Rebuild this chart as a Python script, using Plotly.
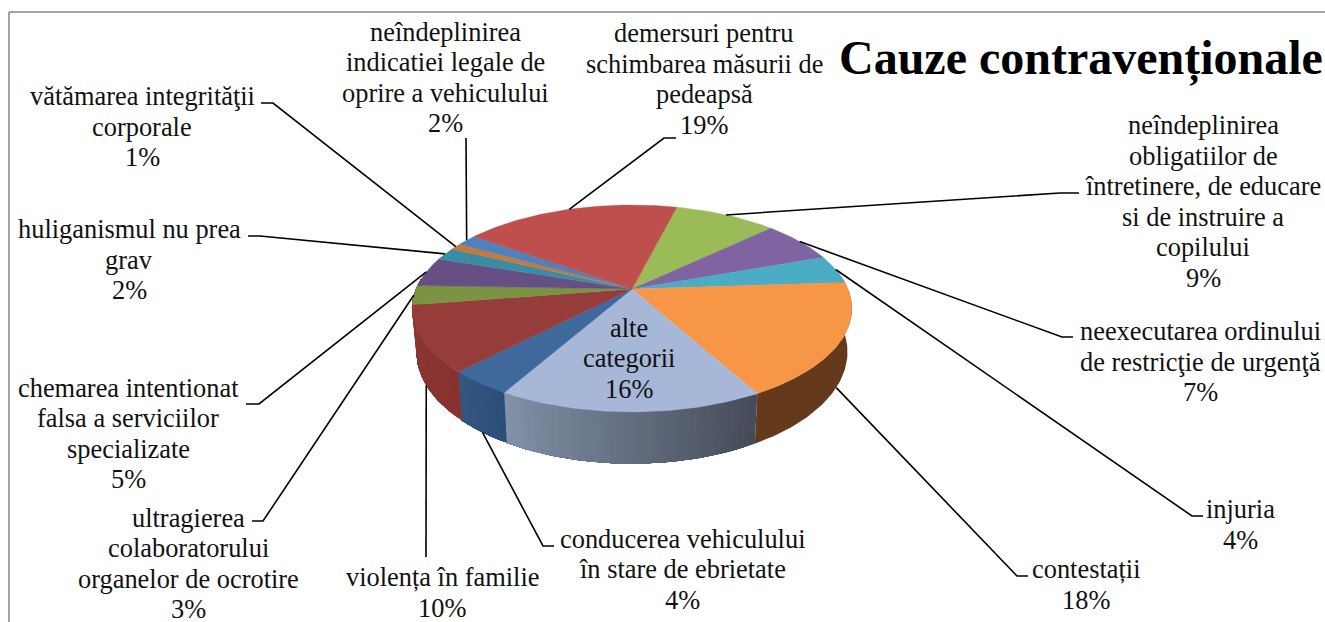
import numpy as np
import plotly.graph_objects as go

# ---- data ----
categories = [
    "neîndeplinirea<br>obligatiilor de<br>întretinere, de educare<br>si de instruire a<br>copilului",
    "neexecutarea ordinului<br>de restricţie de urgenţă",
    "injuria",
    "contestații",
    "alte<br>categorii",
    "conducerea vehiculului<br>în stare de ebrietate",
    "violența în familie",
    "ultragierea<br>colaboratorului<br>organelor de ocrotire",
    "chemarea intentionat<br>falsa a serviciilor<br>specializate",
    "huliganismul nu prea<br>grav",
    "vătămarea integrităţii<br>corporale",
    "neîndeplinirea<br>indicatiei legale de<br>oprire a vehiculului",
    "demersuri pentru<br>schimbarea măsurii de<br>pedeapsă",
]
percent = [9.0, 6.6, 4.4, 18.0, 16.3, 4.0, 10.3, 3.0, 4.6, 2.0, 1.0, 1.8, 19.0]

# ---- style ----
top_colors = ["#9BBB59", "#8064A2", "#4BACC6", "#F79646", "#A7B7D7", "#3F689B", "#963D3B",
              "#7B9342", "#664F82", "#3B8CA3", "#C8793A", "#4F81BD", "#BE4F4D"]
side_low = {2: "#653A1C", 3: "#653A1C", 4: "#444A56", 5: "#2B4E7B", 6: "#88322F"}
side_high = {2: "#653A1C", 3: "#653A1C", 4: "#8292A9", 5: "#36577F", 6: "#8C3A37"}

# ---- projection of the tilted disc onto the page ----
START_DEG, CX, CY, RX, RY, PERSP, DEPTH, LOWER = 14.2, 632, 289, 216, 99.8, 0.188, 42, 0.98
FONT = "Liberation Serif"
SIZE = 26.4
LINE_STEP = 30.5


def project(theta_deg, lower=False):
    t = np.radians(theta_deg)
    u, v = np.sin(t), np.cos(t)
    d = 1 + PERSP * v
    scale = LOWER if lower else 1
    return CX + scale * RX * u / d, CY - RY * v / d + (DEPTH / d if lower else 0)


def mix(c1, c2, f):
    a = [int(c1[i:i + 2], 16) for i in (1, 3, 5)]
    b = [int(c2[i:i + 2], 16) for i in (1, 3, 5)]
    return "rgb(%d,%d,%d)" % tuple(round(x + (y - x) * f) for x, y in zip(a, b))


edges = START_DEG + np.concatenate([[0], np.cumsum(percent)]) * 3.6
fig = go.Figure()

# side wall: shaded by overpainting from each step to the slice's end, so no seams appear
for i in side_low:
    lo, hi = max(edges[i], 80), (276 if i == 6 else edges[i + 1])
    if hi <= lo:
        continue
    steps = 40 if side_low[i] != side_high[i] else 1
    grid = np.linspace(lo, hi, steps + 1)
    for j in range(steps):
        th = np.linspace(grid[j], hi, max(3, int(hi - grid[j]) + 2))
        xt, yt = project(th)
        xb, yb = project(th[::-1], lower=True)
        col = mix(side_low[i], side_high[i], (j + 0.5) / steps)
        fig.add_trace(go.Scatter(x=np.r_[xt, xb, xt[0]], y=np.r_[yt, yb, yt[0]], mode="lines",
                                 fill="toself", fillcolor=col, line=dict(width=0),
                                 hoverinfo="skip", showlegend=False))

# top faces
for i in range(len(percent)):
    th = np.linspace(edges[i], edges[i + 1], max(3, int(percent[i] * 3.6) + 2))
    xs, ys = project(th)
    fig.add_trace(go.Scatter(x=np.r_[CX, xs, CX], y=np.r_[CY, ys, CY], mode="lines", fill="toself",
                             fillcolor=top_colors[i], line=dict(color=top_colors[i], width=0.4),
                             name=categories[i].replace("<br>", " "), hoverinfo="name", showlegend=False))

# leader lines: rim at the slice's middle angle -> elbow -> label
leaders = {0: [(1060, 193), (1079, 193)], 1: [(1062, 337), (1073, 337)], 2: [(1192, 516), (1203, 516)],
           3: [(1017, 576), (1028, 576)], 5: [(543, 546), (554, 546)], 6: [(426, 557)],
           7: [(263, 521), (252, 521)], 8: [(259, 404), (246, 404)], 9: [(260, 236), (248, 236)],
           10: [(273, 103), (261, 103)], 11: [(466, 138)], 12: [(664, 138), (676, 138)]}
on_lower_rim = {3, 5, 6}
mid = (edges[:-1] + edges[1:]) / 2
for i, pts in leaders.items():
    x0, y0 = project(mid[i], lower=i in on_lower_rim)
    fig.add_trace(go.Scatter(x=[x0] + [p[0] for p in pts], y=[y0] + [p[1] for p in pts], mode="lines",
                             line=dict(color="#000000", width=1.6), hoverinfo="skip", showlegend=False))

# labels: one annotation per line, because the reference's leading is tighter than Plotly's <br>
label_pos = [(1203, 201.5), (1200, 361.5), (1240, 524.5), (1086, 584.5), (629, 358), (682, 569), (442, 592.5),
             (188, 563.5), (128, 433.5), (129, 259.5), (142, 126.5), (445, 77.5), (704, 79)]
annotations = []
for txt, p, (x, y) in zip(categories, percent, label_pos):
    rows = txt.split("<br>") + [f"{round(p)}%"]
    for j, row in enumerate(rows):
        annotations.append(dict(x=x, y=y + (j - (len(rows) - 1) / 2) * LINE_STEP, xref="x", yref="y", text=row,
                                showarrow=False, xanchor="center", yanchor="middle",
                                font=dict(family=FONT, size=SIZE, color="#111111")))
annotations.append(dict(x=1081, y=58, xref="x", yref="y", text="<b>Cauze contravenționale</b>", showarrow=False,
                        xanchor="center", yanchor="middle", font=dict(family=FONT, size=48, color="#000000")))

frame = [dict(type="line", xref="x", yref="y", x0=9, y0=12, x1=1325, y1=12, line=dict(color="#868686", width=1.5)),
         dict(type="line", xref="x", yref="y", x0=9, y0=12, x1=9, y1=622, line=dict(color="#868686", width=1.5))]

fig.update_layout(width=1325, height=622, margin=dict(l=0, r=0, t=0, b=0), paper_bgcolor="white",
                  plot_bgcolor="white", showlegend=False, annotations=annotations, shapes=frame,
                  xaxis=dict(range=[0, 1325], visible=False, fixedrange=True),
                  yaxis=dict(range=[622, 0], visible=False, fixedrange=True))
fig.write_html("out.html", config=dict(displayModeBar=False),
               post_script="document.body.style.margin='0';document.documentElement.style.overflow='hidden';")
